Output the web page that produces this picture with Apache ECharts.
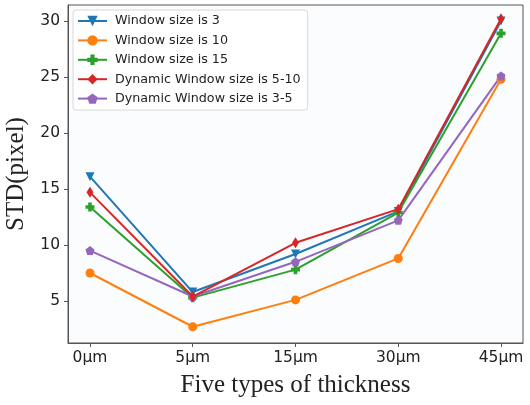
<!DOCTYPE html>
<html><head><meta charset="utf-8">
<script src="https://cdn.jsdelivr.net/npm/echarts@6/dist/echarts.min.js"></script>
<style>html,body{margin:0;padding:0;background:#fff}#c{width:530px;height:405px}</style>
</head><body><div id="c"></div>
<script>
const categories = ['0µm','5µm','15µm','30µm','45µm'];
const yTicks = [5,10,15,20,25,30];
const names = ['Window size is 3','Window size is 10','Window size is 15','Dynamic Window size is 5-10','Dynamic Window size is 3-5'];
const win3 = [16.1, 5.8, 9.2, 13.0, 30.0];
const win10 = [7.5, 2.7, 5.1, 8.8, 24.8];
const win15 = [13.4, 5.3, 7.8, 12.9, 28.9];
const dyn510 = [14.7, 5.4, 10.2, 13.2, 30.2];
const dyn35 = [9.5, 5.4, 8.5, 12.2, 25.1];
const colors = ['#1f77b4','#ff7f0e','#2ca02c','#d62728','#9467bd'];
const symbols = [
  'path://M0,0 L10,0 L5,9 Z',
  'circle',
  'path://M3,0 L7,0 L7,3 L10,3 L10,7 L7,7 L7,10 L3,10 L3,7 L0,7 L0,3 L3,3 Z',
  'diamond',
  'path://M5,0 L10,3.8 L8.1,10 L1.9,10 L0,3.8 Z'
];
const sizes = [9, 9, 9, [7,11], 9];
const allData = [win3, win10, win15, dyn510, dyn35];
const chart = echarts.init(document.getElementById('c'));
chart.setOption({
  backgroundColor: '#ffffff',
  animation: false,
  grid: {left: 68, right: 7, top: 5, bottom: 62, containLabel: false, outerBoundsMode: 'none', show: true, borderColor: '#555', borderWidth: 1, backgroundColor: '#fbfcfe'},
  legend: {
    orient: 'vertical', left: 73, top: 10, itemGap: 6.4, itemWidth: 29, itemHeight: 13,
    padding: [4.5, 7, 5, 4],
    borderColor: '#d8d8d8', borderWidth: 1, borderRadius: 3, backgroundColor: '#fff',
    textStyle: {fontFamily: 'DejaVu Sans', fontSize: 12.7, color: '#222', padding: [0, 0, 0, 3]},
    data: names
  },
  xAxis: {
    type: 'value', min: -0.214, max: 4.214,
    name: 'Five types of thickness', nameLocation: 'middle', nameGap: 30,
    nameTextStyle: {fontFamily: 'Liberation Serif', fontSize: 25, color: '#222'},
    axisLine: {show: true, onZero: false, lineStyle: {color: '#555'}},
    axisTick: {show: true, length: 4, customValues: [0,1,2,3,4], lineStyle: {color: '#555'}},
    axisLabel: {customValues: [0,1,2,3,4], formatter: v => categories[Math.round(v)], fontFamily: 'DejaVu Sans', fontSize: 15.5, color: '#222', margin: 7},
    splitLine: {show: false}
  },
  yAxis: {
    type: 'value', min: 1.25, max: 31.43,
    name: 'STD(pixel)', nameLocation: 'middle', nameGap: 31, nameRotate: 90,
    nameTextStyle: {fontFamily: 'Liberation Serif', fontSize: 25, color: '#222'},
    axisLine: {show: true, onZero: false, lineStyle: {color: '#555'}},
    axisTick: {show: true, length: 4, customValues: yTicks, lineStyle: {color: '#555'}},
    axisLabel: {customValues: yTicks, fontFamily: 'DejaVu Sans', fontSize: 15.5, color: '#222', margin: 8},
    splitLine: {show: false}
  },
  series: names.map((n, i) => ({
    name: n, type: 'line',
    data: allData[i].map((v, j) => [j, v]),
    symbol: symbols[i], symbolSize: sizes[i], showAllSymbol: true,
    lineStyle: {color: colors[i], width: 2},
    itemStyle: {color: colors[i]},
    z: [2,2,2,3,2][i]
  }))
});
</script></body></html>
